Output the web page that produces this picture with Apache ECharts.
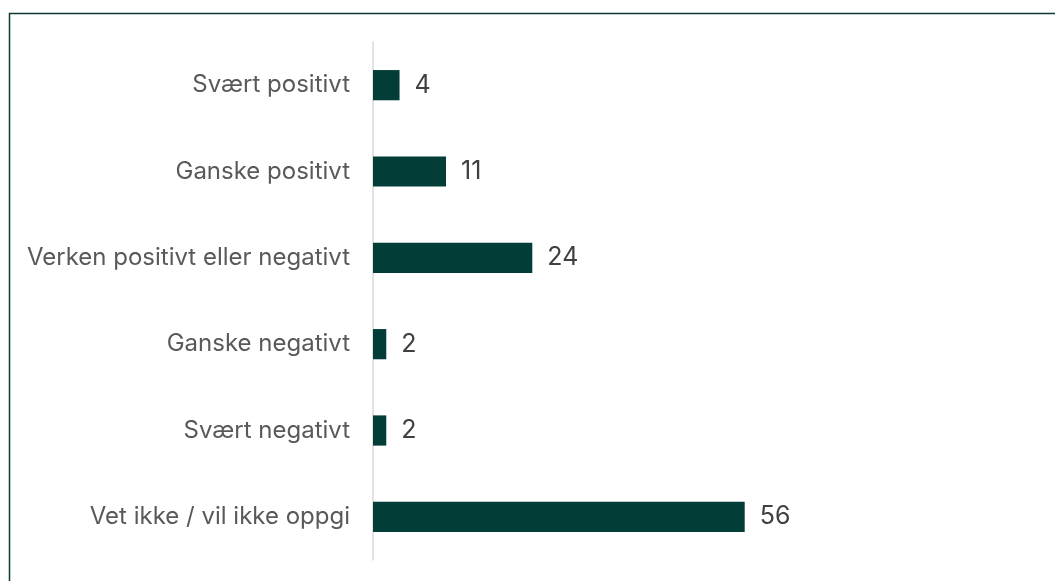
<!DOCTYPE html>
<html>
<head>
<meta charset="utf-8">
<script src="https://cdn.jsdelivr.net/npm/echarts@6/dist/echarts.min.js"></script>
<style>
  html, body { margin: 0; padding: 0; background: #fff; }
  #chart { width: 1055px; height: 581px; }
</style>
</head>
<body>
<div id="chart"></div>
<script>
var categories = [
  "Svært positivt",
  "Ganske positivt",
  "Verken positivt eller negativt",
  "Ganske negativt",
  "Svært negativt",
  "Vet ikke / vil ikke oppgi"
];
var values = [4, 11, 24, 2, 2, 56];

var chart = echarts.init(document.getElementById("chart"));
chart.setOption({
  animation: false,
  textStyle: { fontFamily: "Inter" },
  graphic: [
    {
      type: "polyline",
      shape: { points: [[9.5, 600], [9.5, 13.5], [1100, 13.5]] },
      style: { stroke: "#0b3b35", lineWidth: 1.5, fill: null }
    }
  ],
  grid: {
    left: 373,
    top: 42,
    bottom: 21,
    width: 531
  },
  xAxis: {
    type: "value",
    min: 0,
    max: 80,
    show: false
  },
  yAxis: {
    type: "category",
    inverse: true,
    data: categories,
    axisLine: { show: true, lineStyle: { color: "#d9d9d9", width: 1.5 } },
    axisTick: { show: false },
    axisLabel: {
      margin: 23,
      fontSize: 24,
      color: "#595959",
      fontFamily: "Inter"
    }
  },
  series: [
    {
      type: "bar",
      data: values,
      barCategoryGap: "65%",
      itemStyle: { color: "#023d37" },
      label: {
        show: true,
        position: "right",
        distance: 15,
        fontSize: 25,
        color: "#404040",
        fontFamily: "Inter"
      }
    }
  ]
});
</script>
</body>
</html>
